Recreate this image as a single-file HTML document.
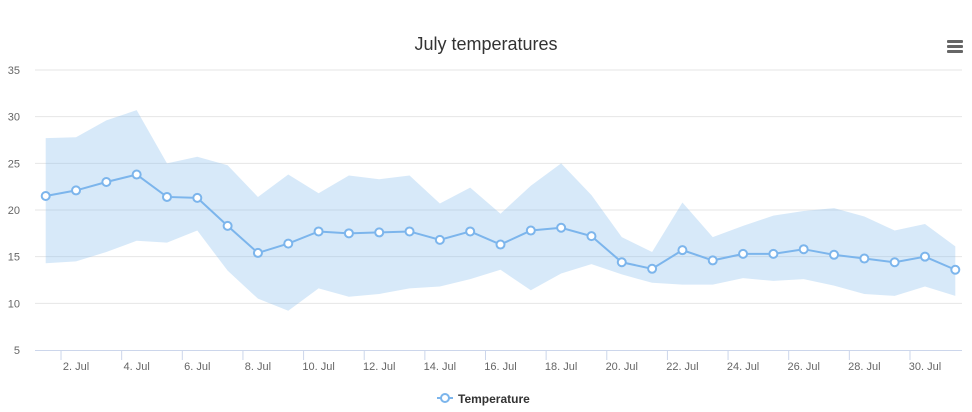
<!DOCTYPE html>
<html><head><meta charset="utf-8"><style>
body{margin:0;background:#fff;font-family:"Liberation Sans",sans-serif}
svg{display:block}
</style></head><body>
<svg id="c" width="972" height="412">
<text x="486" y="50" text-anchor="middle" font-size="18" fill="#333">July temperatures</text>
<g fill="#666">
<rect x="947" y="40" width="16" height="3" rx="1"/><rect x="947" y="45" width="16" height="3" rx="1"/><rect x="947" y="50" width="16" height="3" rx="1"/>
</g>
<g id="grid"></g><g id="range"></g><g id="line"></g><g id="xaxis"></g>
<g>
<line x1="437" y1="398" x2="453" y2="398" stroke="#7cb5ec" stroke-width="2"/>
<circle cx="445" cy="398" r="4" fill="#fff" stroke="#7cb5ec" stroke-width="2"/>
<text x="458" y="403" font-size="12" font-weight="bold" fill="#333">Temperature</text>
</g>
</svg>
<script>
const averages=[21.5,22.1,23,23.8,21.4,21.3,18.3,15.4,16.4,17.7,17.5,17.6,17.7,16.8,17.7,16.3,17.8,18.1,17.2,14.4,13.7,15.7,14.6,15.3,15.3,15.8,15.2,14.8,14.4,15,13.6];
const lows=[14.3,14.5,15.5,16.7,16.5,17.8,13.5,10.5,9.2,11.6,10.7,11.0,11.6,11.8,12.6,13.6,11.4,13.2,14.2,13.1,12.2,12.0,12.0,12.7,12.4,12.6,11.9,11.0,10.8,11.8,10.8];
const highs=[27.7,27.8,29.6,30.7,25.0,25.7,24.8,21.4,23.8,21.8,23.7,23.3,23.7,20.7,22.4,19.6,22.6,25.0,21.6,17.1,15.5,20.8,17.1,18.3,19.4,19.9,20.2,19.3,17.8,18.5,16.1];
const yTicks=[5,10,15,20,25,30,35];
const xTickDays=[2,4,6,8,10,12,14,16,18,20,22,24,26,28,30];
const NS="http://www.w3.org/2000/svg";
const x=d=>45.7+(d-1)*30.32;
const y=v=>350-(v-5)*9.333;
function mk(t,a,p){const e=document.createElementNS(NS,t);for(const k in a)e.setAttribute(k,a[k]);p.appendChild(e);return e;}
const grid=document.getElementById('grid');
yTicks.forEach(v=>{
 if(v>5){const l=mk('line',{x1:35,x2:962,y1:y(v),y2:y(v),stroke:'#e6e6e6'},grid);
 
 }
 const t=mk('text',{x:20,y:y(v)+4,'text-anchor':'end','font-size':11,fill:'#666'},grid);t.textContent=v;
 
 
});
const xa=document.getElementById('xaxis');
mk('line',{x1:35,x2:962,y1:350.5,y2:350.5,stroke:'#ccd6eb'},xa);
xTickDays.forEach(d=>{
 const t=mk('text',{x:x(d),y:370,'text-anchor':'middle','font-size':11,fill:'#666'},xa);t.textContent=d+'. Jul';
 
 
 mk('line',{x1:x(d)-15,x2:x(d)-15,y1:350,y2:360,stroke:'#ccd6eb'},xa);
});
let pts=highs.map((h,i)=>x(i+1)+','+y(h));
for(let i=lows.length-1;i>=0;i--)pts.push(x(i+1)+','+y(lows[i]));
const area=mk('polygon',{points:pts.join(' '),fill:'#7cb5ec','fill-opacity':0.3},document.getElementById('range'));


const lg=document.getElementById('line');
const pl=mk('polyline',{points:averages.map((v,i)=>x(i+1)+','+y(v)).join(' '),fill:'none',stroke:'#7cb5ec','stroke-width':2},lg);


averages.forEach((v,i)=>{
 const c=mk('circle',{cx:x(i+1),cy:y(v),r:4,fill:'#fff',stroke:'#7cb5ec','stroke-width':2},lg);
 
 
});
</script>
</body></html>
